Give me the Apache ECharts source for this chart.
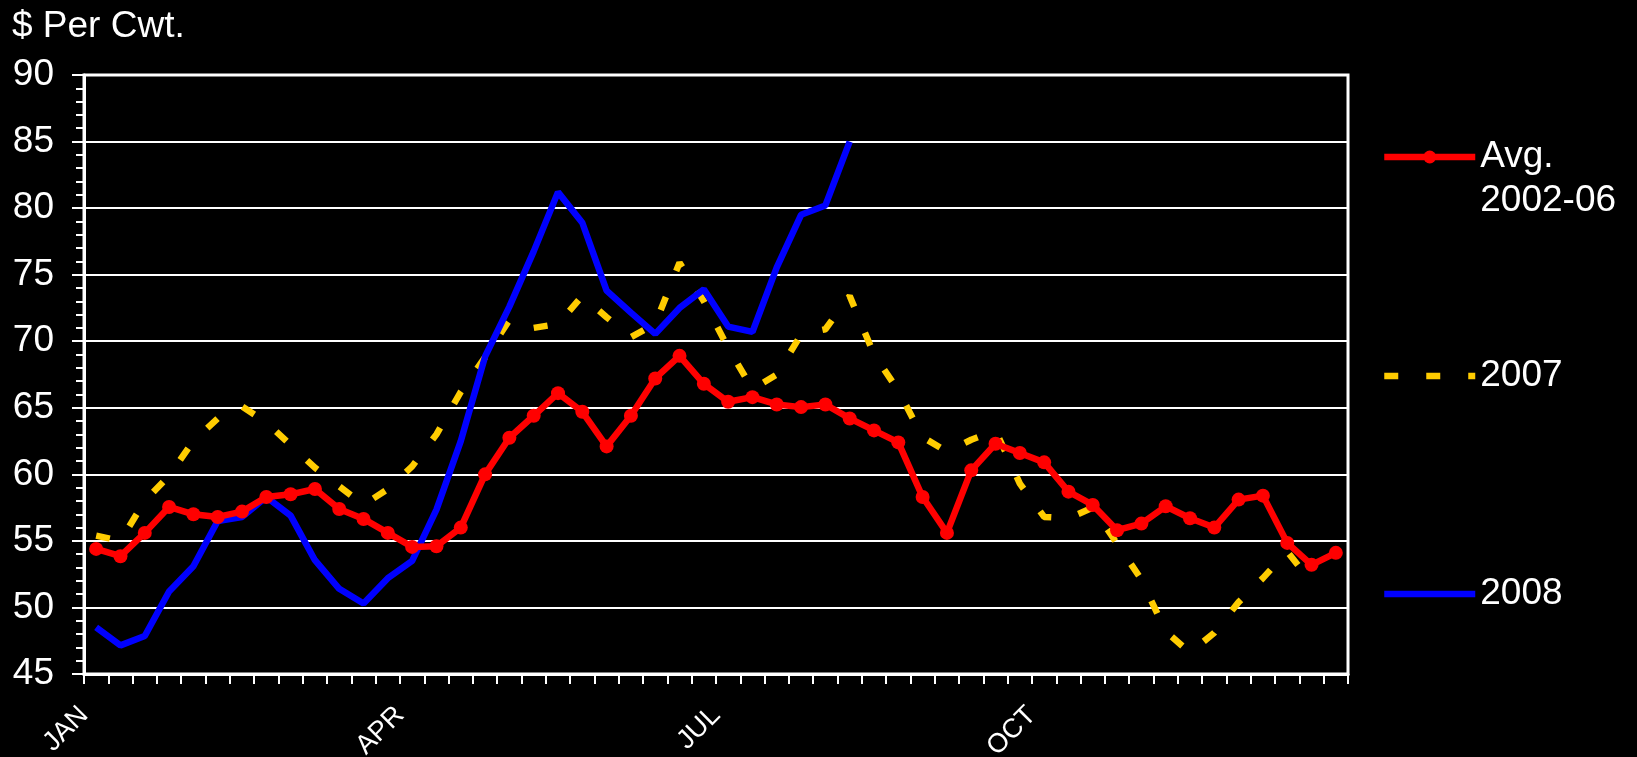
<!DOCTYPE html>
<html>
<head>
<meta charset="utf-8">
<script src="https://cdn.jsdelivr.net/npm/echarts@6/dist/echarts.min.js"></script>
<style>
html,body{margin:0;padding:0;background:#000;}
#chart{width:1637px;height:757px;}
</style>
</head>
<body>
<div id="chart"></div>
<script>
// ---- Data (weekly, $ per cwt) ----
const monthLabels = ['JAN', 'APR', 'JUL', 'OCT'];
const monthStartWeeks = [0, 13, 26, 39];
const weekCount = 52;

const avg2002_06 = [54.4, 53.85, 55.6, 57.55, 57.0, 56.8, 57.2, 58.3, 58.5, 58.9,
  57.4, 56.65, 55.6, 54.55, 54.6, 56.0, 60.0, 62.75, 64.4, 66.1,
  64.7, 62.1, 64.4, 67.2, 68.9, 66.8, 65.45, 65.8, 65.25, 65.05,
  65.25, 64.2, 63.3, 62.4, 58.3, 55.6, 60.3, 62.3, 61.6, 60.9,
  58.7, 57.7, 55.8, 56.3, 57.6, 56.7, 56.0, 58.1, 58.4, 54.85,
  53.2, 54.1];

const y2007 = [55.4, 55.0, 58.0, 59.9, 62.5, 64.2, 65.1, 63.9, 62.2, 60.5,
  59.1, 57.7, 58.9, 60.6, 63.0, 66.2, 68.8, 71.6, 71.0, 71.3,
  73.4, 71.8, 70.3, 71.3, 75.9, 73.0, 69.5, 66.4, 67.5, 70.5,
  70.9, 73.4, 69.0, 66.3, 62.8, 61.7, 62.6, 63.3, 59.3, 56.8,
  56.7, 57.5, 54.8, 52.1, 48.2, 46.6, 48.1, 50.4, 52.2, 54.2,
  51.9];

const y2008 = [48.5, 47.15, 47.85, 51.2, 53.1, 56.5, 56.8, 58.3, 56.9, 53.55,
  51.4, 50.3, 52.2, 53.5, 57.35, 62.5, 68.85, 72.6, 76.75, 81.2,
  78.9, 73.8, 72.15, 70.55, 72.5, 73.9, 71.1, 70.7, 75.55, 79.5,
  80.2, 85.0];

const yMin = 45, yMax = 90, yStep = 5;

// ---- Chart ----
const FONT = 'Liberation Sans, Arial, sans-serif';
const toPoints = arr => arr.map((v, i) => [i + 0.5, v]);

const chart = echarts.init(document.getElementById('chart'), null, {renderer: 'canvas'});

const legendCommon = {
  orient: 'vertical',
  left: 1381,
  padding: 0,
  itemWidth: 91,
  itemHeight: 16,
  selectedMode: false,
  lineStyle: {width: 6.5},
  textStyle: {color: '#ffffff', fontSize: 37, lineHeight: 44, fontFamily: FONT}
};

chart.setOption({
  backgroundColor: '#000000',
  animation: false,
  title: {
    text: '$ Per Cwt.',
    left: 12, top: 8, padding: 0,
    textStyle: {color: '#ffffff', fontSize: 37, fontWeight: 'normal', fontFamily: FONT}
  },
  legend: [
    Object.assign({}, legendCommon, {
      data: ['Avg. 2002-06'], top: 157 - 66,
      formatter: () => '\nAvg.\n2002-06'
    }),
    Object.assign({}, legendCommon, {
      data: [{name: '2007', itemStyle: {opacity: 0}}], top: 376 - 22
    }),
    Object.assign({}, legendCommon, {
      data: [{name: '2008', itemStyle: {opacity: 0}}], top: 594 - 22
    })
  ],
  grid: {
    left: 84, right: 289, top: 75, bottom: 83,
    outerBoundsMode: 'none', containLabel: false,
    show: true, borderColor: '#ffffff', borderWidth: 3, backgroundColor: 'transparent'
  },
  xAxis: {
    type: 'value',
    min: 0, max: weekCount, interval: 1,
    axisLine: {show: true, lineStyle: {color: '#ffffff', width: 3}},
    axisTick: {show: true, length: 10, lineStyle: {color: '#ffffff', width: 2}},
    splitLine: {show: false},
    axisLabel: {
      color: '#ffffff', fontSize: 27, fontFamily: FONT,
      rotate: 45, margin: 37, showMinLabel: true, showMaxLabel: true,
      formatter: v => {
        const k = monthStartWeeks.indexOf(Math.round(v));
        return k >= 0 ? monthLabels[k] : '';
      }
    }
  },
  yAxis: {
    type: 'value',
    min: yMin, max: yMax, interval: yStep,
    axisLine: {show: true, lineStyle: {color: '#ffffff', width: 3}},
    axisTick: {show: true, length: 12, lineStyle: {color: '#ffffff', width: 2}},
    minorTick: {show: true, splitNumber: 5, length: 8, lineStyle: {color: '#ffffff', width: 2}},
    splitLine: {show: true, lineStyle: {color: '#ffffff', width: 2}},
    axisLabel: {color: '#ffffff', fontSize: 37, fontFamily: FONT, margin: 30}
  },
  series: [
    {
      name: '2007', type: 'line', z: 2,
      data: toPoints(y2007),
      showSymbol: false, symbol: 'none',
      lineStyle: {color: '#ffcc00', width: 6.5, type: [14, 28], cap: 'butt'},
      itemStyle: {color: '#ffcc00'},
      emphasis: {disabled: true}
    },
    {
      name: '2008', type: 'line', z: 3,
      data: toPoints(y2008),
      showSymbol: false, symbol: 'none',
      lineStyle: {color: '#0000ff', width: 6.5},
      itemStyle: {color: '#0000ff'},
      emphasis: {disabled: true}
    },
    {
      name: 'Avg. 2002-06', type: 'line', z: 4,
      data: toPoints(avg2002_06),
      symbol: 'circle', symbolSize: 14, showSymbol: true,
      lineStyle: {color: '#ff0000', width: 6.5},
      itemStyle: {color: '#ff0000'},
      emphasis: {disabled: true}
    }
  ]
});
</script>
</body>
</html>
